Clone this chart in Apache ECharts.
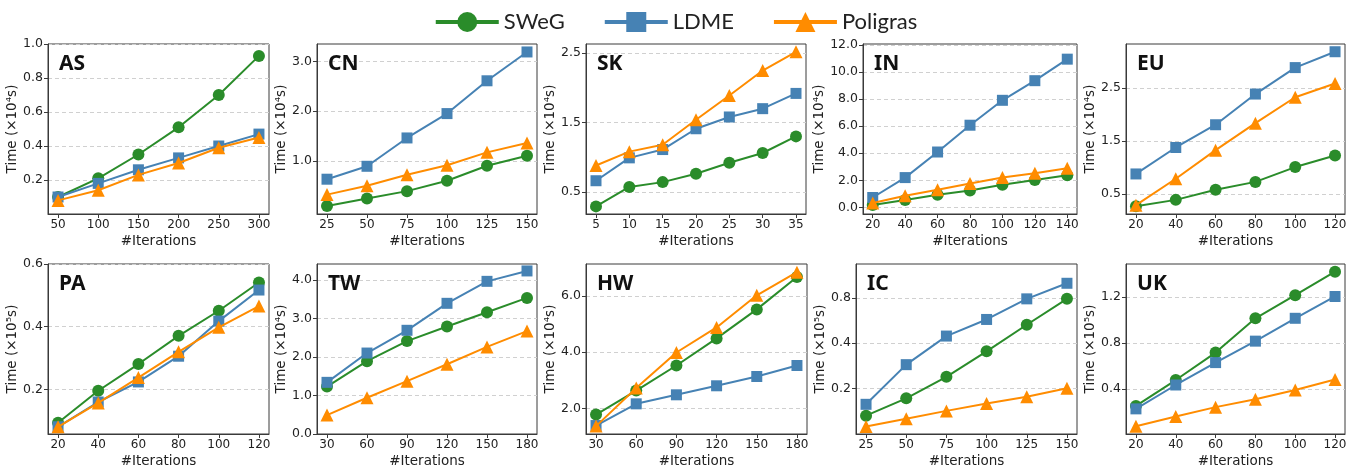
<!DOCTYPE html>
<html><head><meta charset="utf-8">
<script src="https://cdn.jsdelivr.net/npm/echarts@6/dist/echarts.min.js"></script>
<style>html,body{margin:0;padding:0;background:#fff}#c{width:1351px;height:465px}</style>
</head><body><div id="c"></div><script>
// ---------------- data ----------------
const methods = ['SWeG', 'LDME', 'Poligras'];
const datasets = ['AS', 'CN', 'SK', 'IN', 'EU', 'PA', 'TW', 'HW', 'IC', 'UK'];
const exponents = ['4', '4', '4', '4', '4', '5', '4', '4', '5', '5'];

const itersAS = [50, 100, 150, 200, 250, 300];
const swegAS = [0.10, 0.21, 0.35, 0.51, 0.70, 0.93];
const ldmeAS = [0.10, 0.18, 0.26, 0.33, 0.40, 0.47];
const poliAS = [0.08, 0.14, 0.23, 0.30, 0.39, 0.45];
const yTicksAS = [0.2, 0.4, 0.6, 0.8, 1.0];

const itersCN = [25, 50, 75, 100, 125, 150];
const swegCN = [0.09, 0.24, 0.39, 0.60, 0.90, 1.10];
const ldmeCN = [0.63, 0.89, 1.46, 1.95, 2.61, 3.19];
const poliCN = [0.32, 0.50, 0.72, 0.91, 1.17, 1.36];
const yTicksCN = [1.0, 2.0, 3.0];

const itersSK = [5, 10, 15, 20, 25, 30, 35];
const swegSK = [0.29, 0.57, 0.64, 0.76, 0.92, 1.06, 1.30];
const ldmeSK = [0.66, 0.99, 1.11, 1.41, 1.58, 1.70, 1.92];
const poliSK = [0.88, 1.08, 1.18, 1.54, 1.89, 2.25, 2.52];
const yTicksSK = [0.5, 1.5, 2.5];

const itersIN = [20, 40, 60, 80, 100, 120, 140];
const swegIN = [0.17, 0.54, 0.93, 1.25, 1.67, 2.03, 2.38];
const ldmeIN = [0.73, 2.20, 4.09, 6.07, 7.91, 9.36, 10.95];
const poliIN = [0.32, 0.86, 1.30, 1.76, 2.20, 2.52, 2.89];
const yTicksIN = [0, 2, 4, 6, 8, 10, 12];

const itersEU = [20, 40, 60, 80, 100, 120];
const swegEU = [0.27, 0.39, 0.58, 0.73, 1.01, 1.23];
const ldmeEU = [0.88, 1.38, 1.81, 2.39, 2.89, 3.19];
const poliEU = [0.29, 0.79, 1.33, 1.84, 2.33, 2.59];
const yTicksEU = [0.5, 1.5, 2.5];

const itersPA = [20, 40, 60, 80, 100, 120];
const swegPA = [0.094, 0.196, 0.281, 0.371, 0.451, 0.541];
const ldmePA = [0.081, 0.160, 0.224, 0.306, 0.418, 0.517];
const poliPA = [0.081, 0.157, 0.238, 0.320, 0.398, 0.466];
const yTicksPA = [0.2, 0.4, 0.6];

const itersTW = [30, 60, 90, 120, 150, 180];
const swegTW = [1.23, 1.89, 2.41, 2.79, 3.16, 3.53];
const ldmeTW = [1.34, 2.10, 2.69, 3.39, 3.96, 4.23];
const poliTW = [0.49, 0.94, 1.37, 1.81, 2.26, 2.67];
const yTicksTW = [0, 1, 2, 3, 4];

const itersHW = [30, 60, 90, 120, 150, 180];
const swegHW = [1.79, 2.64, 3.53, 4.49, 5.52, 6.67];
const ldmeHW = [1.40, 2.17, 2.49, 2.81, 3.14, 3.53];
const poliHW = [1.38, 2.73, 3.99, 4.88, 6.02, 6.84];
const yTicksHW = [2, 4, 6];

const itersIC = [25, 50, 75, 100, 125, 150];
const swegIC = [0.132, 0.172, 0.239, 0.353, 0.530, 0.788];
const ldmeIC = [0.157, 0.288, 0.446, 0.575, 0.788, 1.00];
const poliIC = [0.112, 0.126, 0.142, 0.159, 0.176, 0.201];
const yTicksIC = [0.2, 0.4, 0.8];

const itersUK = [20, 40, 60, 80, 100, 120];
const swegUK = [0.253, 0.478, 0.717, 1.016, 1.217, 1.422];
const ldmeUK = [0.227, 0.435, 0.630, 0.817, 1.016, 1.206];
const poliUK = [0.075, 0.161, 0.242, 0.311, 0.391, 0.483];
const yTicksUK = [0.4, 0.8, 1.2];

// y-axis ranges (min, max) as shown
const yRanges = [[0, 1.0], [-0.07, 3.35], [0.18, 2.633], [-0.49, 12.07], [0.123, 3.336],
                 [0.058, 0.6], [0, 4.41], [1.10, 7.13], [0.0997, 1.343], [0.008, 1.489]];
const logAxis = [false, false, false, false, false, false, false, false, true, false];

const iters = [itersAS, itersCN, itersSK, itersIN, itersEU, itersPA, itersTW, itersHW, itersIC, itersUK];
const sweg = [swegAS, swegCN, swegSK, swegIN, swegEU, swegPA, swegTW, swegHW, swegIC, swegUK];
const ldme = [ldmeAS, ldmeCN, ldmeSK, ldmeIN, ldmeEU, ldmePA, ldmeTW, ldmeHW, ldmeIC, ldmeUK];
const poli = [poliAS, poliCN, poliSK, poliIN, poliEU, poliPA, poliTW, poliHW, poliIC, poliUK];
const yTicks = [yTicksAS, yTicksCN, yTicksSK, yTicksIN, yTicksEU, yTicksPA, yTicksTW, yTicksHW, yTicksIC, yTicksUK];

// ---------------- layout / style ----------------
const gridPos = [
  [48, 44, 221, 170], [317, 44, 220, 170], [586, 44, 220, 170], [863, 44, 214, 170], [1126, 44, 219, 170],
  [48, 264, 221, 170], [317, 264, 220, 170], [586, 264, 221, 170], [856, 264, 221, 170], [1126, 264, 219, 170]
];
const yNameGaps = [26, 23, 24, 31, 24, 26, 25, 24, 24, 24];
const colors = ['#2a8c2a', '#4682b4', '#ff8c00'];
const symbols = ['circle', 'rect', 'triangle'];
const symSizes = [12, 11, 13];
const FONT = 'DejaVu Sans';

const grids = [], xAxes = [], yAxes = [], series = [], titles = [];
for (let i = 0; i < datasets.length; i++) {
  const [l, t, w, h] = gridPos[i];
  grids.push({left: l, top: t, width: w, height: h, show: true, borderColor: '#3a3a3a', borderWidth: 1,
              backgroundColor: 'transparent', outerBoundsMode: 'none', containLabel: false});
  const xs = iters[i];
  const xr = xs[xs.length - 1] - xs[0];
  xAxes.push({
    type: 'value', gridIndex: i, min: xs[0] - 0.05 * xr, max: xs[xs.length - 1] + 0.05 * xr,
    name: '#Iterations', nameLocation: 'middle', nameGap: 20,
    nameTextStyle: {fontFamily: FONT, fontSize: 13.5, color: '#222'},
    axisLine: {show: true, onZero: false, lineStyle: {color: '#3a3a3a', width: 1}},
    axisTick: {show: true, length: 4, customValues: xs, lineStyle: {color: '#3a3a3a'}},
    axisLabel: {customValues: xs, fontFamily: FONT, fontSize: 12, color: '#222', margin: 5},
    splitLine: {show: false}
  });
  const [ymin, ymax] = yRanges[i];
  yAxes.push({
    type: logAxis[i] ? 'log' : 'value', logBase: 2, gridIndex: i, min: ymin, max: ymax,
    name: 'Time (×10' + (exponents[i] === '4' ? '⁴' : '⁵') + 's)', nameLocation: 'middle', nameGap: yNameGaps[i],
    nameTextStyle: {fontFamily: FONT, fontSize: 13.5, color: '#222'},
    axisLine: {show: true, onZero: false, lineStyle: {color: '#3a3a3a', width: 1}},
    axisTick: {show: true, length: 4, customValues: yTicks[i], lineStyle: {color: '#3a3a3a'}},
    axisLabel: {customValues: yTicks[i], fontFamily: FONT, fontSize: 12.5, color: '#222', margin: 5,
                formatter: v => Number(v).toFixed(1)},
    splitLine: {show: true, lineStyle: {color: '#d0d0d0', type: [4, 3], width: 1}}
  });
  titles.push({text: datasets[i], left: l + 11, top: t + 10, padding: 0,
               textStyle: {fontFamily: 'Noto Sans', fontSize: 21, fontWeight: 'bold', color: '#111'}});
  const vals = [sweg[i], ldme[i], poli[i]];
  for (let m = 0; m < 3; m++) {
    series.push({
      type: 'line', name: methods[m], xAxisIndex: i, yAxisIndex: i,
      data: xs.map((x, k) => [x, vals[m][k]]),
      symbol: symbols[m], symbolSize: symSizes[m], showSymbol: true,
      lineStyle: {color: colors[m], width: 2}, itemStyle: {color: colors[m]},
      emphasis: {disabled: true}, animation: false, z: 2 + m
    });
  }
}

const chart = echarts.init(document.getElementById('c'), null, {renderer: 'canvas'});
chart.setOption({
  animation: false,
  backgroundColor: '#fff',
  title: titles,
  legend: {
    data: methods, top: 6, left: 'center', itemWidth: 63, itemHeight: 25, itemGap: 38,
    lineStyle: {width: 4},
    textStyle: {fontFamily: 'Lato', fontSize: 22, color: '#222'}
  },
  grid: grids, xAxis: xAxes, yAxis: yAxes, series: series
});
</script></body></html>
